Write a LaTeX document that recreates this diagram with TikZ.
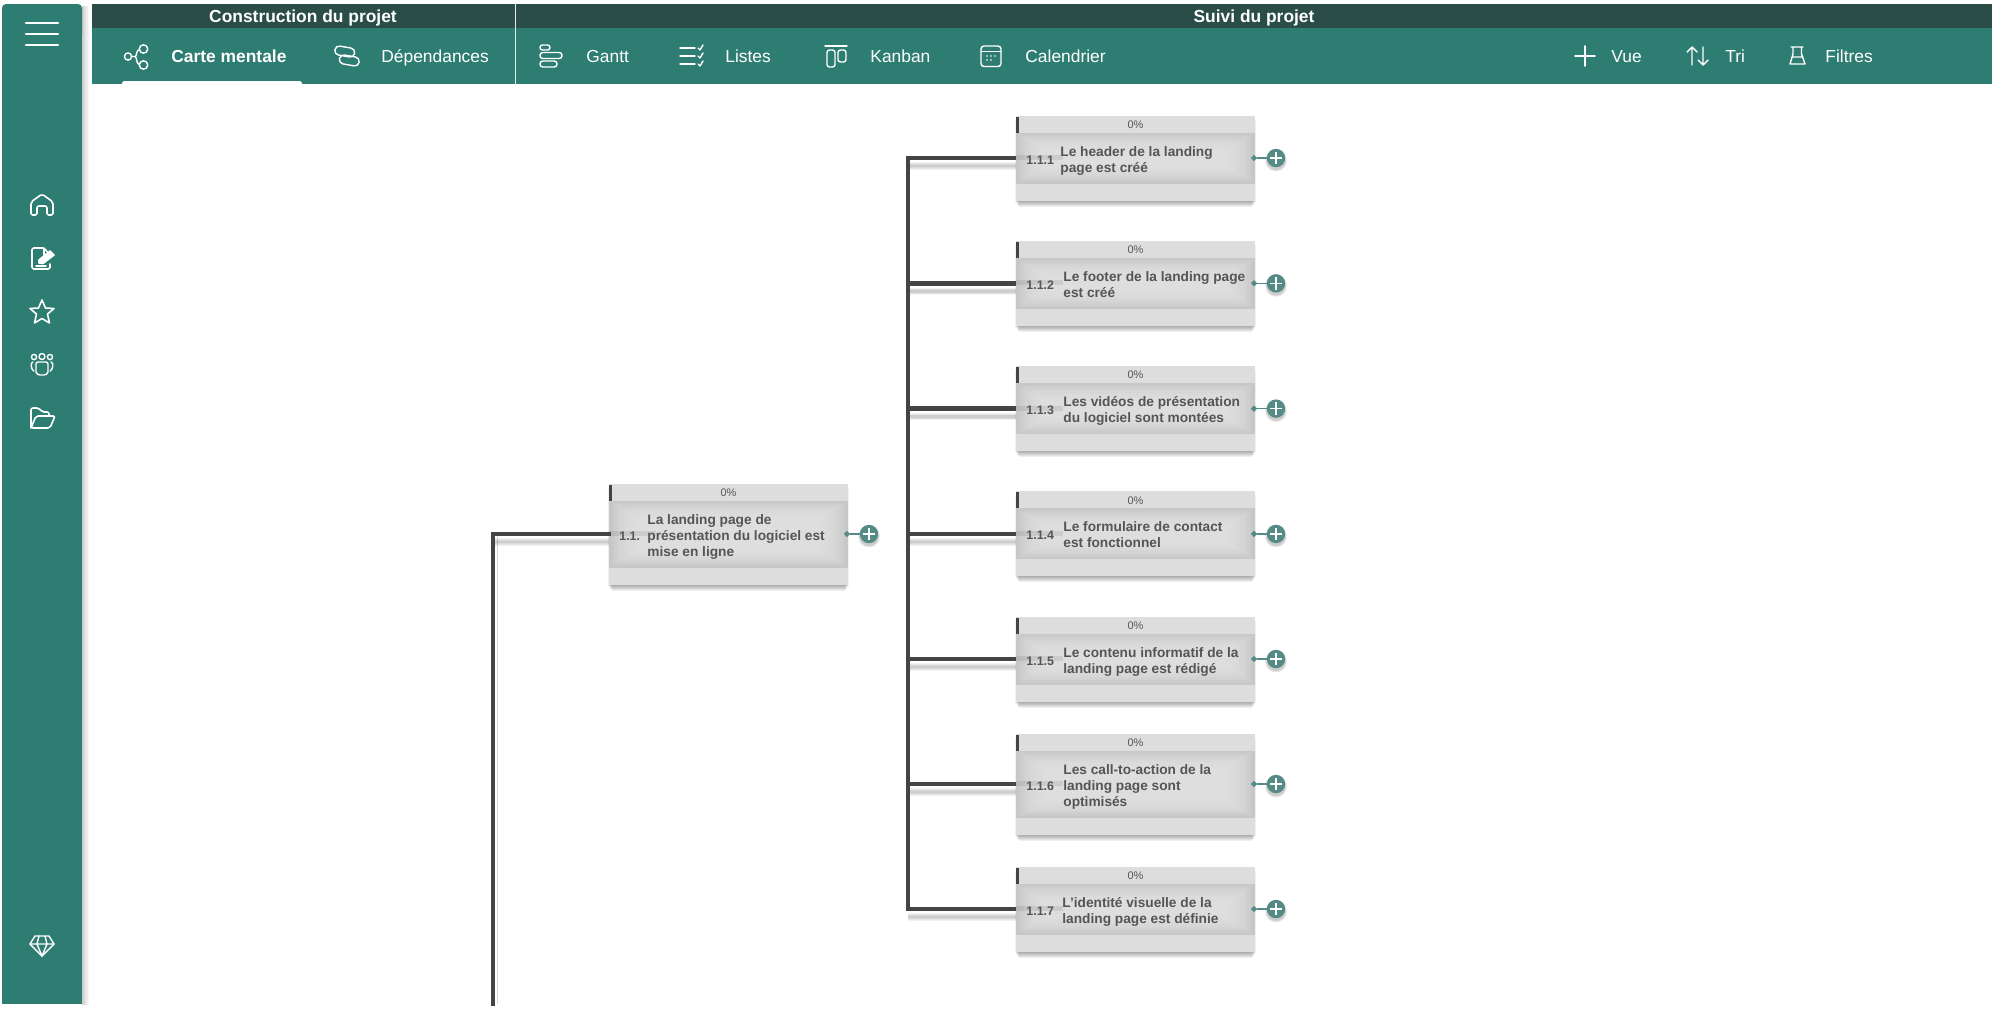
\documentclass[tikz,border=0pt]{standalone}
\usepackage{fontspec}
\setmainfont{Liberation Sans}
\usetikzlibrary{shapes.geometric,arrows.meta,calc}
\definecolor{tealc}{HTML}{2E7D72}
\definecolor{darkc}{HTML}{2A4D47}
\definecolor{wirec}{HTML}{444444}
\definecolor{txtc}{HTML}{555555}
\definecolor{boxc}{HTML}{DDDDDD}
\definecolor{plusc}{HTML}{558B86}
\tikzset{
  x=0.5pt,y=-0.5pt,
  ico/.style={draw=white,line width=0.8pt,line cap=round,line join=round},
  bartxt/.style={text=white,inner sep=0,text height=6pt,text depth=2pt,font=\fontsize{8.7}{10}\selectfont},
  bartitle/.style={text=white,inner sep=0,text height=6pt,text depth=2pt,font=\fontsize{8.7}{10}\selectfont\bfseries},
  wire/.style={draw=wirec,line width=2.25pt},
  wireshadow/.style={draw=black,opacity=.05},
  bodyanchor/.style={inner sep=0,outer sep=0,minimum width=119.5pt},
  tasktxt/.style={text=txtc,inner sep=0,align=left,anchor=west,font=\fontsize{6.85}{8}\selectfont\bfseries},
  tasknum/.style={text=txtc,inner sep=0,anchor=west,text height=5pt,text depth=1.5pt,font=\fontsize{6.2}{8}\selectfont\bfseries},
  pct/.style={text=txtc,inner sep=0,font=\fontsize{5.5}{6}\selectfont},
  plusnode/.style={circle,fill=plusc,minimum size=9.2pt,inner sep=0,outer sep=0},
  tipnode/.style={diamond,fill=plusc,minimum size=3.2pt,inner sep=0,outer sep=0},
}
% #1 name, #2 left x, #3 wire y, #4 half body height, #5 number, #6 num x, #7 text x, #8 text
\newcommand{\taskbox}[8]{%
  \pgfmathsetmacro{\xa}{#2}\pgfmathsetmacro{\xb}{#2+239}%
  \pgfmathsetmacro{\yh}{#3-#4}\pgfmathsetmacro{\yb}{#3+#4}%
  \pgfmathsetmacro{\yt}{#3-#4-17}\pgfmathsetmacro{\yf}{#3+#4+17}%
  \foreach \i in {0,...,5}{%
    \fill[black,opacity=.06] (\xa+3-\i*.8,\yt+4) rectangle (\xb-3+\i*.8,\yf+6-\i);}%
  \fill[boxc] (\xa,\yt) rectangle (\xb,\yf);
  \foreach \i in {0,...,12}{%
    \pgfmathsetmacro{\shade}{13+9*(1-\i/12)*(1-\i/12)}%
    \fill[black!\shade!white] (\xa+\i*2.6,\yh+\i*1.6) rectangle (\xb-\i*2.6,\yb-\i*1.6);}%
  \fill[wirec] (\xa,\yt+1) rectangle (\xa+3,\yh);
  \node[bodyanchor,minimum height=#4 pt] (#1) at (\xa+119.5,#3) {};
  \fill[black,opacity=.08] (\xa,#3-3) rectangle (\xa+47,#3+2);
  \node[pct] (#1pct) at (\xa+119.5,\yt+9) {0\%};
  \node[tasknum] (#1num) at (#6,#3+2.5) {#5};
  \node[tasktxt] (#1txt) at (#7,#3+2.5) {\rule{0pt}{5pt}#8\rule[-1.5pt]{0pt}{1.5pt}};
  \node[tipnode] (#1tip) at (\xb-1,#3) {};
  \foreach \r in {9.4,10.2,11}{\fill[black,opacity=.07] (\xb+21,#3+2.5) circle (\r);}
  \node[plusnode] (#1plus) at (\xb+21,#3) {};
  \draw[plusc,line width=.75pt] (#1tip) -- (#1plus);
  \draw[white,line width=.7pt] ($(#1plus)+(-6.2,0)$) -- ($(#1plus)+(6.2,0)$) ($(#1plus)+(0,-6.2)$) -- ($(#1plus)+(0,6.2)$);
}
\begin{document}
\begin{tikzpicture}
\useasboundingbox (0,0) rectangle (2002,1008);
\fill[white] (0,0) rectangle (2002,1008);
% side bar
\foreach \i in {1,...,6}{\fill[black,opacity=.035] (82,6) rectangle (82+\i*1.1,1005);}
\fill[tealc,rounded corners=2pt] (2,4) rectangle (82,40);
\fill[tealc] (2,20) rectangle (82,1004);
\draw[white,line width=1.1pt,line cap=round] (26,23)--(58,23) (26,34)--(58,34) (26,45)--(58,45);
% top bar
\fill[darkc] (92,4) rectangle (1992,28);
\fill[tealc] (92,28) rectangle (1992,84);
\draw[white!85!tealc,line width=.5pt] (515,4)--(515,84);
\fill[white,rounded corners=1.2pt] (122,81) rectangle (302,86);
\fill[white] (122,84) rectangle (302,87);
\node[bartitle] (tconstr) at (303,18.5) {Construction du projet};
\node[bartitle] (tsuivi) at (1254,18.5) {Suivi du projet};
\node[bartitle,anchor=west] (tcarte) at (171,58.5) {Carte mentale};
\node[bartxt,anchor=west] (tdep) at (381,58.5) {Dépendances};
\node[bartxt,anchor=west] (tgantt) at (586,58.5) {Gantt};
\node[bartxt,anchor=west] (tlist) at (725,58.5) {Listes};
\node[bartxt,anchor=west] (tkan) at (870,58.5) {Kanban};
\node[bartxt,anchor=west] (tcal) at (1025,58.5) {Calendrier};
\node[bartxt,anchor=west] (tvue) at (1611,58.5) {Vue};
\node[bartxt,anchor=west] (ttri) at (1725,58.5) {Tri};
\node[bartxt,anchor=west] (tfil) at (1825,58.5) {Filtres};
% share icon
\begin{scope}[ico,line width=.7pt]
\draw (128,56.5) circle (3.6) (143.5,49) circle (4.2) (143.5,65) circle (4.2);
\draw (131.6,56.5) -- (135,56.5) .. controls (137,56.5) and (136,50) .. (139.3,49.5);
\draw (135,56.5) .. controls (137,56.5) and (136,64) .. (139.3,64.5);
\end{scope}
% link icon
\begin{scope}[ico,line width=.7pt,shift={(347,56)},rotate=-10]
\draw[rounded corners=2.2pt] (-13,-8.5) rectangle (7,0.5);
\draw[rounded corners=2.2pt] (-7,-0.5) rectangle (13,8.5);
\end{scope}
% gantt
\begin{scope}[ico,line width=.7pt]
\draw[rounded corners=1.2pt] (540,45) rectangle (550,50);
\draw[rounded corners=1.4pt] (540,52.5) rectangle (562,58.5);
\draw[rounded corners=1.4pt] (540,61) rectangle (557,67);
\end{scope}
% listes
\begin{scope}[ico,line width=.7pt]
\draw (680,48)--(695,48) (680,56)--(695,56) (680,64)--(695,64);
\draw (698,48)--(700,50)--(703,45) (698,56)--(700,58)--(703,53) (698,64)--(700,66)--(703,61);
\end{scope}
% kanban
\begin{scope}[ico,line width=.7pt]
\draw (825,46)--(847,46);
\draw[rounded corners=1.2pt] (827,50) rectangle (835,67);
\draw[rounded corners=1.2pt] (838,50) rectangle (846,62);
\end{scope}
% calendar
\begin{scope}[ico,line width=.7pt]
\draw[rounded corners=1.5pt] (981,46) rectangle (1001,66.5);
\draw (981,51.5)--(1001,51.5);
\end{scope}
\foreach \px/\py in {987/56,991/56,995/56,987/60,991/60}{\fill[white] (\px,\py) circle (.9);}
% plus, sort, flask
\draw[ico] (1575,56)--(1595,56) (1585,46)--(1585,66);
\draw[ico,line width=.7pt] (1692,65)--(1692,47) (1687,52)--(1692,47)--(1697,52) (1703,47)--(1703,65) (1698,60)--(1703,65)--(1708,60);
\draw[ico,line width=.7pt] (1791,47)--(1803,47) (1793,47)--(1793,54)--(1790,64)--(1805,64)--(1801.5,54)--(1801.5,47) (1792,57)--(1803,57);
% sidebar icons
\begin{scope}[ico,shift={(42,205)}]
\draw[rounded corners=1pt] (-11,10) -- (-11,-3) -- (0,-11) -- (11,-3) -- (11,10) -- (5,10) -- (5,1) -- (-5,1) -- (-5,10) -- cycle;
\end{scope}
\begin{scope}[ico,shift={(42,258)}]
\draw[rounded corners=.8pt] (8,-3) -- (2,-10) -- (-10,-10) -- (-10,11) -- (8,11) -- (8,6);
\draw (2,-10) -- (2,-3) -- (8,-3);
\draw[fill=white] (-3,5) -- (-3,2) -- (8,-7) -- (12,-3) -- (1,5.5) -- cycle;
\draw (-6,8) -- (4,8);
\end{scope}
\begin{scope}[ico,shift={(42,312)}]
\draw (0,-12) -- (3.5,-4) -- (12,-3.5) -- (5.5,2) -- (7.5,11) -- (0,6.5) -- (-7.5,11) -- (-5.5,2) -- (-12,-3.5) -- (-3.5,-4) -- cycle;
\end{scope}
\begin{scope}[ico,line width=.7pt,shift={(42,365)}]
\draw (0,-8.5) circle (3) (-8,-8) circle (2.6) (8,-8) circle (2.6);
\draw[rounded corners=1pt] (-6,-3) -- (6,-3) -- (6,5) .. controls (6,9) and (3,10) .. (0,10) .. controls (-3,10) and (-6,9) .. (-6,5) -- cycle;
\draw (-9,-3) .. controls (-12,-3) and (-11,5) .. (-8,6);
\draw (9,-3) .. controls (12,-3) and (11,5) .. (8,6);
\end{scope}
\begin{scope}[ico,shift={(42,418)}]
\draw[rounded corners=1pt] (-11,10) -- (-11,-10) -- (-3,-10) -- (0,-6) -- (7,-6) -- (7,-2);
\draw[rounded corners=1pt] (-11,10) -- (-6,-2) -- (13,-2) -- (8,10) -- cycle;
\end{scope}
\begin{scope}[ico,line width=.7pt,shift={(42,945)}]
\draw (-7,-9) -- (7,-9) -- (12,-1) -- (0,11) -- (-12,-1) -- cycle;
\draw (-12,-1) -- (12,-1) (-3,-9) -- (-5,-1) -- (0,11) -- (5,-1) -- (3,-9);
\end{scope}
% connectors: trunk coordinates
\coordinate (trunkA) at (493,534);
\coordinate (endA) at (493,1004);
\coordinate (trunkB) at (908,158);
% wire shadows
\foreach \w in {1.2pt,2pt,2.8pt,3.6pt}{%
  \draw[wireshadow,line width=\w] ($(trunkA)+(0,8)$) -- ($(609,534)+(0,8)$);
  \foreach \wy in {158,283.3,408.6,533.9,659,784,909}{\draw[wireshadow,line width=\w] (908,\wy+8) -- (1016,\wy+8);}
}
\draw[draw=black,opacity=.15,line width=.8pt] ($(trunkA)+(4.5,0)$) -- ($(endA)+(4.5,0)$);
% task boxes
\taskbox{n11}{609}{534}{33.5}{1.1.}{619}{647}{La landing page de\\présentation du logiciel est\\mise en ligne}
\taskbox{n111}{1016}{158}{25.5}{1.1.1}{1026}{1060}{Le header de la landing\\page est créé}
\taskbox{n112}{1016}{283.3}{25.5}{1.1.2}{1026}{1063}{Le footer de la landing page\\est créé}
\taskbox{n113}{1016}{408.6}{25.5}{1.1.3}{1026}{1063}{Les vidéos de présentation\\du logiciel sont montées}
\taskbox{n114}{1016}{533.9}{25.5}{1.1.4}{1026}{1063}{Le formulaire de contact\\est fonctionnel}
\taskbox{n115}{1016}{659}{25.5}{1.1.5}{1026}{1063}{Le contenu informatif de la\\landing page est rédigé}
\taskbox{n116}{1016}{784}{33.5}{1.1.6}{1026}{1063}{Les call-to-action de la\\landing page sont\\optimisés}
\taskbox{n117}{1016}{909}{25.5}{1.1.7}{1026}{1062}{L’identité visuelle de la\\landing page est définie}
% wires
\draw[wire,line cap=rect] (trunkA) -- (endA);
\draw[wire,line cap=rect] (trunkA) -- (n11.west);
\draw[wire,line cap=rect] (trunkB |- n111.west) -- (trunkB |- n117.west);
\foreach \n in {n111,n112,n113,n114,n115,n116,n117}{\draw[wire] (trunkB |- \n.west) -- (\n.west);}
\end{tikzpicture}
\end{document}
